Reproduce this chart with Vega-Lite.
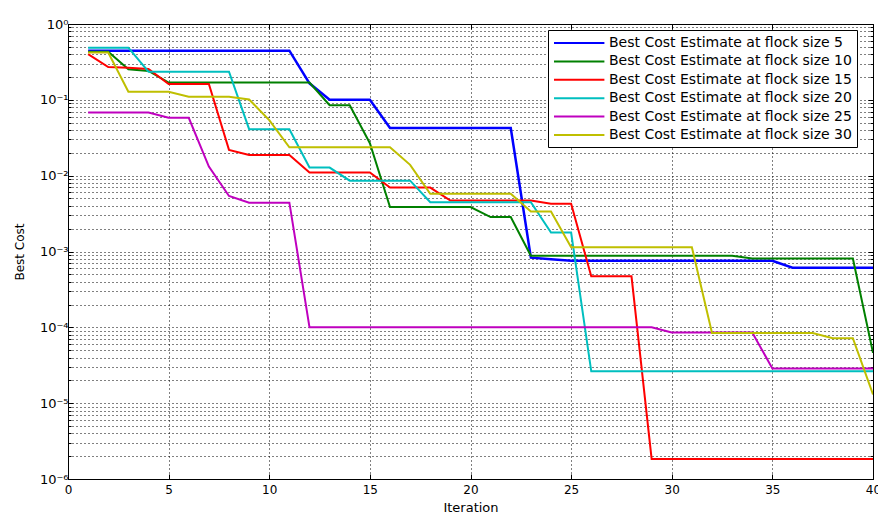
{
  "$schema": "https://vega.github.io/schema/vega-lite/v6.json",
  "width": 805,
  "height": 455,
  "autosize": {"type": "none"},
  "padding": {"left": 68, "top": 24, "right": 5, "bottom": 34},
  "background": "white",
  "config": {
    "view": {"stroke": "#000", "strokeWidth": 1},
    "font": "DejaVu Sans",
    "axis": {"domainColor": "#000", "tickColor": "#000", "labelColor": "#000", "titleColor": "#000", "labelFont": "DejaVu Sans", "titleFont": "DejaVu Sans", "titleFontWeight": "normal"}
  },
  "data": {"values": [
    {"i":1,"s":5,"v":0.445},{"i":2,"s":5,"v":0.445},{"i":3,"s":5,"v":0.445},{"i":4,"s":5,"v":0.445},{"i":5,"s":5,"v":0.445},{"i":6,"s":5,"v":0.445},{"i":7,"s":5,"v":0.445},{"i":8,"s":5,"v":0.445},{"i":9,"s":5,"v":0.445},{"i":10,"s":5,"v":0.445},
    {"i":11,"s":5,"v":0.445},{"i":12,"s":5,"v":0.165},{"i":13,"s":5,"v":0.1},{"i":14,"s":5,"v":0.1},{"i":15,"s":5,"v":0.1},{"i":16,"s":5,"v":0.0426},{"i":17,"s":5,"v":0.0426},{"i":18,"s":5,"v":0.0426},{"i":19,"s":5,"v":0.0426},{"i":20,"s":5,"v":0.0426},
    {"i":21,"s":5,"v":0.0426},{"i":22,"s":5,"v":0.0426},{"i":23,"s":5,"v":0.00083},{"i":24,"s":5,"v":0.00079},{"i":25,"s":5,"v":0.000755},{"i":26,"s":5,"v":0.000755},{"i":27,"s":5,"v":0.000755},{"i":28,"s":5,"v":0.000755},{"i":29,"s":5,"v":0.000755},{"i":30,"s":5,"v":0.000755},
    {"i":31,"s":5,"v":0.000755},{"i":32,"s":5,"v":0.000755},{"i":33,"s":5,"v":0.000755},{"i":34,"s":5,"v":0.000755},{"i":35,"s":5,"v":0.000755},{"i":36,"s":5,"v":0.00061},{"i":37,"s":5,"v":0.00061},{"i":38,"s":5,"v":0.00061},{"i":39,"s":5,"v":0.00061},{"i":40,"s":5,"v":0.00061},

    {"i":1,"s":10,"v":0.43},{"i":2,"s":10,"v":0.43},{"i":3,"s":10,"v":0.253},{"i":4,"s":10,"v":0.24},{"i":5,"s":10,"v":0.169},{"i":6,"s":10,"v":0.169},{"i":7,"s":10,"v":0.169},{"i":8,"s":10,"v":0.169},{"i":9,"s":10,"v":0.169},{"i":10,"s":10,"v":0.169},
    {"i":11,"s":10,"v":0.169},{"i":12,"s":10,"v":0.169},{"i":13,"s":10,"v":0.085},{"i":14,"s":10,"v":0.085},{"i":15,"s":10,"v":0.0268},{"i":16,"s":10,"v":0.00385},{"i":17,"s":10,"v":0.00385},{"i":18,"s":10,"v":0.00385},{"i":19,"s":10,"v":0.00385},{"i":20,"s":10,"v":0.00385},
    {"i":21,"s":10,"v":0.00284},{"i":22,"s":10,"v":0.00284},{"i":23,"s":10,"v":0.000877},{"i":24,"s":10,"v":0.000877},{"i":25,"s":10,"v":0.000877},{"i":26,"s":10,"v":0.000877},{"i":27,"s":10,"v":0.000877},{"i":28,"s":10,"v":0.000877},{"i":29,"s":10,"v":0.000877},{"i":30,"s":10,"v":0.000877},
    {"i":31,"s":10,"v":0.000877},{"i":32,"s":10,"v":0.000877},{"i":33,"s":10,"v":0.000877},{"i":34,"s":10,"v":0.000809},{"i":35,"s":10,"v":0.000809},{"i":36,"s":10,"v":0.000809},{"i":37,"s":10,"v":0.000809},{"i":38,"s":10,"v":0.000809},{"i":39,"s":10,"v":0.000809},{"i":40,"s":10,"v":0.000046},

    {"i":1,"s":15,"v":0.40},{"i":2,"s":15,"v":0.27},{"i":3,"s":15,"v":0.265},{"i":4,"s":15,"v":0.255},{"i":5,"s":15,"v":0.162},{"i":6,"s":15,"v":0.162},{"i":7,"s":15,"v":0.162},{"i":8,"s":15,"v":0.0219},{"i":9,"s":15,"v":0.0188},{"i":10,"s":15,"v":0.0188},
    {"i":11,"s":15,"v":0.0188},{"i":12,"s":15,"v":0.011},{"i":13,"s":15,"v":0.011},{"i":14,"s":15,"v":0.011},{"i":15,"s":15,"v":0.011},{"i":16,"s":15,"v":0.00697},{"i":17,"s":15,"v":0.00697},{"i":18,"s":15,"v":0.00697},{"i":19,"s":15,"v":0.0047},{"i":20,"s":15,"v":0.0047},
    {"i":21,"s":15,"v":0.0047},{"i":22,"s":15,"v":0.0047},{"i":23,"s":15,"v":0.0047},{"i":24,"s":15,"v":0.00426},{"i":25,"s":15,"v":0.00426},{"i":26,"s":15,"v":0.00047},{"i":27,"s":15,"v":0.00047},{"i":28,"s":15,"v":0.00047},{"i":29,"s":15,"v":0.00000184},{"i":30,"s":15,"v":0.00000184},
    {"i":31,"s":15,"v":0.00000184},{"i":32,"s":15,"v":0.00000184},{"i":33,"s":15,"v":0.00000184},{"i":34,"s":15,"v":0.00000184},{"i":35,"s":15,"v":0.00000184},{"i":36,"s":15,"v":0.00000184},{"i":37,"s":15,"v":0.00000184},{"i":38,"s":15,"v":0.00000184},{"i":39,"s":15,"v":0.00000184},{"i":40,"s":15,"v":0.00000184},

    {"i":1,"s":20,"v":0.487},{"i":2,"s":20,"v":0.487},{"i":3,"s":20,"v":0.487},{"i":4,"s":20,"v":0.235},{"i":5,"s":20,"v":0.235},{"i":6,"s":20,"v":0.235},{"i":7,"s":20,"v":0.235},{"i":8,"s":20,"v":0.235},{"i":9,"s":20,"v":0.041},{"i":10,"s":20,"v":0.041},
    {"i":11,"s":20,"v":0.041},{"i":12,"s":20,"v":0.0128},{"i":13,"s":20,"v":0.0128},{"i":14,"s":20,"v":0.0086},{"i":15,"s":20,"v":0.0086},{"i":16,"s":20,"v":0.0086},{"i":17,"s":20,"v":0.0086},{"i":18,"s":20,"v":0.00447},{"i":19,"s":20,"v":0.00447},{"i":20,"s":20,"v":0.00447},
    {"i":21,"s":20,"v":0.00447},{"i":22,"s":20,"v":0.00447},{"i":23,"s":20,"v":0.00447},{"i":24,"s":20,"v":0.00178},{"i":25,"s":20,"v":0.00178},{"i":26,"s":20,"v":0.0000263},{"i":27,"s":20,"v":0.0000263},{"i":28,"s":20,"v":0.0000263},{"i":29,"s":20,"v":0.0000263},{"i":30,"s":20,"v":0.0000263},
    {"i":31,"s":20,"v":0.0000263},{"i":32,"s":20,"v":0.0000263},{"i":33,"s":20,"v":0.0000263},{"i":34,"s":20,"v":0.0000263},{"i":35,"s":20,"v":0.0000263},{"i":36,"s":20,"v":0.0000263},{"i":37,"s":20,"v":0.0000263},{"i":38,"s":20,"v":0.0000263},{"i":39,"s":20,"v":0.0000263},{"i":40,"s":20,"v":0.0000263},

    {"i":1,"s":25,"v":0.068},{"i":2,"s":25,"v":0.068},{"i":3,"s":25,"v":0.068},{"i":4,"s":25,"v":0.068},{"i":5,"s":25,"v":0.058},{"i":6,"s":25,"v":0.058},{"i":7,"s":25,"v":0.0132},{"i":8,"s":25,"v":0.0054},{"i":9,"s":25,"v":0.0044},{"i":10,"s":25,"v":0.0044},
    {"i":11,"s":25,"v":0.0044},{"i":12,"s":25,"v":0.0001},{"i":13,"s":25,"v":0.0001},{"i":14,"s":25,"v":0.0001},{"i":15,"s":25,"v":0.0001},{"i":16,"s":25,"v":0.0001},{"i":17,"s":25,"v":0.0001},{"i":18,"s":25,"v":0.0001},{"i":19,"s":25,"v":0.0001},{"i":20,"s":25,"v":0.0001},
    {"i":21,"s":25,"v":0.0001},{"i":22,"s":25,"v":0.0001},{"i":23,"s":25,"v":0.0001},{"i":24,"s":25,"v":0.0001},{"i":25,"s":25,"v":0.0001},{"i":26,"s":25,"v":0.0001},{"i":27,"s":25,"v":0.0001},{"i":28,"s":25,"v":0.0001},{"i":29,"s":25,"v":0.0001},{"i":30,"s":25,"v":0.0000857},
    {"i":31,"s":25,"v":0.0000857},{"i":32,"s":25,"v":0.0000857},{"i":33,"s":25,"v":0.0000857},{"i":34,"s":25,"v":0.0000857},{"i":35,"s":25,"v":0.0000286},{"i":36,"s":25,"v":0.0000286},{"i":37,"s":25,"v":0.0000286},{"i":38,"s":25,"v":0.0000286},{"i":39,"s":25,"v":0.0000286},{"i":40,"s":25,"v":0.0000286},

    {"i":1,"s":30,"v":0.42},{"i":2,"s":30,"v":0.42},{"i":3,"s":30,"v":0.128},{"i":4,"s":30,"v":0.128},{"i":5,"s":30,"v":0.128},{"i":6,"s":30,"v":0.11},{"i":7,"s":30,"v":0.11},{"i":8,"s":30,"v":0.11},{"i":9,"s":30,"v":0.101},{"i":10,"s":30,"v":0.054},
    {"i":11,"s":30,"v":0.0237},{"i":12,"s":30,"v":0.0237},{"i":13,"s":30,"v":0.0237},{"i":14,"s":30,"v":0.0237},{"i":15,"s":30,"v":0.0237},{"i":16,"s":30,"v":0.0237},{"i":17,"s":30,"v":0.0139},{"i":18,"s":30,"v":0.00576},{"i":19,"s":30,"v":0.00576},{"i":20,"s":30,"v":0.00576},
    {"i":21,"s":30,"v":0.00576},{"i":22,"s":30,"v":0.00576},{"i":23,"s":30,"v":0.00337},{"i":24,"s":30,"v":0.00337},{"i":25,"s":30,"v":0.00114},{"i":26,"s":30,"v":0.00114},{"i":27,"s":30,"v":0.00114},{"i":28,"s":30,"v":0.00114},{"i":29,"s":30,"v":0.00114},{"i":30,"s":30,"v":0.00114},
    {"i":31,"s":30,"v":0.00114},{"i":32,"s":30,"v":0.000084},{"i":33,"s":30,"v":0.000084},{"i":34,"s":30,"v":0.000084},{"i":35,"s":30,"v":0.000084},{"i":36,"s":30,"v":0.000084},{"i":37,"s":30,"v":0.000084},{"i":38,"s":30,"v":0.000072},{"i":39,"s":30,"v":0.000072},{"i":40,"s":30,"v":0.000013}
  ]},
  "layer": [
    {
      "mark": {"type": "line", "clip": true},
      "encoding": {
        "x": {"field": "i", "type": "quantitative", "title": "Iteration",
          "scale": {"domain": [0, 40], "nice": false, "zero": false},
          "axis": {"orient": "bottom", "values": [0,5,10,15,20,25,30,35,40], "format": "d",
            "grid": true, "gridColor": "#000", "gridDash": [1, 3], "gridOpacity": 1, "gridWidth": 1,
            "tickSize": -5, "labelPadding": 10, "labelFontSize": 12, "labelFlush": false, "labelOverlap": false,
            "titleFontSize": 13, "titleY": 32, "titleBaseline": "alphabetic"}},
        "y": {"field": "v", "type": "quantitative", "title": "Best Cost",
          "scale": {"type": "log", "domain": [0.000001, 1], "nice": false},
          "axis": {"orient": "left",
            "values": [0.000001,0.000002,0.000003,0.000004,0.000005,0.000006,0.000007,0.000008,0.000009,
                       0.00001,0.00002,0.00003,0.00004,0.00005,0.00006,0.00007,0.00008,0.00009,
                       0.0001,0.0002,0.0003,0.0004,0.0005,0.0006,0.0007,0.0008,0.0009,
                       0.001,0.002,0.003,0.004,0.005,0.006,0.007,0.008,0.009,
                       0.01,0.02,0.03,0.04,0.05,0.06,0.07,0.08,0.09,
                       0.1,0.2,0.3,0.4,0.5,0.6,0.7,0.8,0.9,1],
            "labelExpr": "abs(datum.value/pow(10,round(log(datum.value)/LN10))-1)<0.000001 ? '10'+['⁰','⁻¹','⁻²','⁻³','⁻⁴','⁻⁵','⁻⁶'][-round(log(datum.value)/LN10)] : ''",
            "grid": true, "gridColor": "#000", "gridDash": [1, 3], "gridOpacity": 1, "gridWidth": 1,
            "tickSize": {"condition": {"test": "abs(datum.value/pow(10,round(log(datum.value)/LN10))-1)<0.000001", "value": -5}, "value": -3},
            "labelPadding": 5, "labelFontSize": 13, "labelOverlap": false, "labelFlush": false,
            "titleFontSize": 12, "titleX": -45, "titleBaseline": "alphabetic"}},
        "color": {"field": "s", "type": "nominal",
          "scale": {"domain": [5, 10, 15, 20, 25, 30], "range": ["#0000ff", "#008000", "#ff0000", "#00bfbf", "#bf00bf", "#bfbf00"]},
          "legend": {"orient": "none", "legendX": 480, "legendY": 6, "title": null,
            "labelExpr": "'Best Cost Estimate at flock size ' + datum.label",
            "symbolType": "M-1,0H6.2", "symbolSize": 196, "symbolStrokeWidth": 2,
            "labelFontSize": 14, "labelFont": "DejaVu Sans", "labelColor": "#000", "labelOffset": 40, "labelLimit": 400,
            "padding": 5, "rowPadding": 3.4, "strokeColor": "#000", "fillColor": "#fff", "cornerRadius": 0}},
        "strokeWidth": {"condition": {"test": "datum.s == 5", "value": 2.5}, "value": 2}
      }
    },
    {
      "mark": {"type": "line", "opacity": 0},
      "encoding": {
        "x": {"field": "i", "type": "quantitative",
          "axis": {"orient": "top", "values": [0,5,10,15,20,25,30,35,40], "labels": false, "title": null, "grid": false, "tickSize": -5, "domain": false}},
        "y": {"field": "v", "type": "quantitative",
          "axis": {"orient": "right",
            "values": [0.000001,0.000002,0.000003,0.000004,0.000005,0.000006,0.000007,0.000008,0.000009,
                       0.00001,0.00002,0.00003,0.00004,0.00005,0.00006,0.00007,0.00008,0.00009,
                       0.0001,0.0002,0.0003,0.0004,0.0005,0.0006,0.0007,0.0008,0.0009,
                       0.001,0.002,0.003,0.004,0.005,0.006,0.007,0.008,0.009,
                       0.01,0.02,0.03,0.04,0.05,0.06,0.07,0.08,0.09,
                       0.1,0.2,0.3,0.4,0.5,0.6,0.7,0.8,0.9,1],
            "labels": false, "title": null, "grid": false, "domain": false,
            "tickSize": {"condition": {"test": "abs(datum.value/pow(10,round(log(datum.value)/LN10))-1)<0.000001", "value": -5}, "value": -3}}},
        "detail": {"field": "s", "type": "nominal"}
      }
    }
  ],
  "resolve": {"axis": {"x": "independent", "y": "independent"}}
}
